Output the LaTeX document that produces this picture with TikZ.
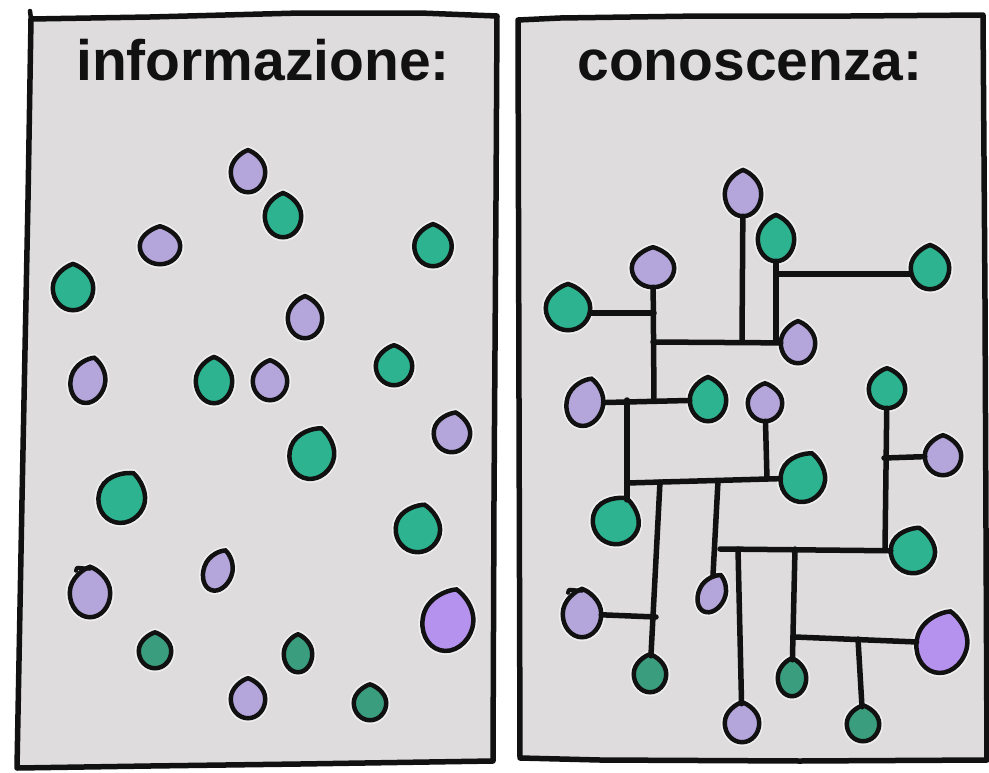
\documentclass[tikz,border=0pt]{standalone}
\usepackage{fontspec}
\setmainfont{Liberation Sans}
\usetikzlibrary{shapes.geometric,calc}
\definecolor{panelgray}{HTML}{DEDCDC}
\definecolor{ink}{HTML}{111111}
\definecolor{lav}{HTML}{B4A5DA}
\definecolor{lavbig}{HTML}{B592EE}
\definecolor{dotgreen}{HTML}{2DB38F}
\definecolor{dotgreendk}{HTML}{3A9E7E}
\newdimen\dropcx \newdimen\dropcy \newdimen\droprx \newdimen\dropry
\makeatletter
\pgfdeclareshape{drop}{%
  \inheritsavedanchors[from=ellipse]%
  \inheritanchor[from=ellipse]{center}%
  \inheritanchor[from=ellipse]{mid}%
  \inheritanchor[from=ellipse]{base}%
  \inheritanchor[from=ellipse]{north}%
  \inheritanchor[from=ellipse]{south}%
  \inheritanchor[from=ellipse]{east}%
  \inheritanchor[from=ellipse]{west}%
  \inheritanchorborder[from=ellipse]%
  \backgroundpath{%
    \pgf@process{\radius}%
    \global\droprx=\pgf@x \global\dropry=\pgf@y
    \pgf@process{\centerpoint}%
    \global\dropcx=\pgf@x \global\dropcy=\pgf@y
    \pgfpathmoveto{\pgfpoint{\dropcx}{\dropcy+1.08*\dropry}}%
    \pgfpathcurveto{\pgfpoint{\dropcx+0.32*\droprx}{\dropcy+1.0*\dropry}}%
      {\pgfpoint{\dropcx+\droprx}{\dropcy+0.6*\dropry}}%
      {\pgfpoint{\dropcx+\droprx}{\dropcy}}%
    \pgfpathcurveto{\pgfpoint{\dropcx+\droprx}{\dropcy-0.552*\dropry}}%
      {\pgfpoint{\dropcx+0.552*\droprx}{\dropcy-\dropry}}%
      {\pgfpoint{\dropcx}{\dropcy-\dropry}}%
    \pgfpathcurveto{\pgfpoint{\dropcx-0.552*\droprx}{\dropcy-\dropry}}%
      {\pgfpoint{\dropcx-\droprx}{\dropcy-0.552*\dropry}}%
      {\pgfpoint{\dropcx-\droprx}{\dropcy}}%
    \pgfpathcurveto{\pgfpoint{\dropcx-\droprx}{\dropcy+0.6*\dropry}}%
      {\pgfpoint{\dropcx-0.32*\droprx}{\dropcy+1.0*\dropry}}%
      {\pgfpoint{\dropcx}{\dropcy+1.08*\dropry}}%
    \pgfpathclose
  }%
}
\makeatother
\newcommand\mydot[6]{\node[#1,minimum width=#4pt,minimum height=#5pt,rotate=#6] (#2) at (#3) {};}
\begin{document}
\begin{tikzpicture}[x=1pt,y=-1pt,
  basedot/.style={drop, draw=ink, line width=4.5pt, inner sep=0pt,
     preaction={draw=white, line width=8pt, opacity=.55}},
  pd/.style={basedot, fill=lav},
  pb/.style={basedot, fill=lavbig},
  gd/.style={basedot, fill=dotgreen},
  gs/.style={basedot, fill=dotgreendk},
  conn/.style={draw=ink, line width=5.5pt, line cap=round, line join=round},
  frame/.style={draw=ink, fill=panelgray, line width=5.5pt, line join=round, line cap=round},
  title/.style={font=\bfseries\fontsize{57}{60}\selectfont, text=ink, inner sep=0pt, anchor=base}]
\useasboundingbox (0,0) rectangle (989,772);
\fill[white] (0,0) rectangle (989,772);
% panels
\draw[frame] (31,19) -- (150,17) -- (300,13) -- (420,13) -- (497,16) -- (496,200)
  -- (494,500) -- (493,761) -- (300,764) -- (150,766) -- (17,768) -- (22,500) -- (28,200) -- cycle;
\draw[conn, line width=4.5pt] (30,11) -- (31,19);
\draw[frame] (518,20) -- (560,18) -- (700,16) -- (850,16) -- (983,15) -- (985,300)
  -- (987,760) -- (800,761) -- (600,760) -- (520,758) -- (519,400) -- cycle;
% titles
\node[title] (t1) at (263,80) {informazione:};
\node[title] (t2) at (750,80) {conoscenza:};
% left panel: informazione
\mydot{pd}{l1}{248,172}{30}{36}{0}
\mydot{gd}{l2}{283,216}{32}{38}{0}
\mydot{pd}{l3}{160,246}{36}{32}{0}
\mydot{gd}{l4}{433,246}{33}{36}{0}
\mydot{gd}{l5}{73,288}{36}{40}{0}
\mydot{pd}{l6}{305,318}{30}{36}{0}
\mydot{pd}{l7}{88,381}{30}{40}{-15}
\mydot{gd}{l8}{214,381}{32}{40}{0}
\mydot{pd}{l9}{270,381}{30}{34}{0}
\mydot{gd}{l10}{394,366}{32}{34}{0}
\mydot{pd}{l11}{452,433}{32}{34}{-10}
\mydot{gd}{l12}{312,454}{40}{46}{-20}
\mydot{gd}{l13}{122,498}{42}{46}{-25}
\mydot{gd}{l14}{418,529}{40}{42}{-15}
\mydot{pd}{l15}{218,571}{24}{36}{-20}
\mydot{pd}{l16}{90,593}{36}{44}{0}
\mydot{pb}{l17}{448,621}{46}{56}{-15}
\mydot{gs}{l18}{155,651}{28}{30}{0}
\mydot{gs}{l19}{298,654}{24}{32}{0}
\mydot{pd}{l20}{248,699}{30}{34}{0}
\mydot{gs}{l21}{370,703}{28}{30}{0}
\draw[conn, line width=4pt] (l16.north) -- ++(-13,-1) -- ++(-1,3);
% right panel: conoscenza
\mydot{pd}{A}{743,194}{32}{40}{0}
\mydot{gd}{B}{776,239}{32}{40}{0}
\mydot{pd}{C}{653,268}{38}{34}{0}
\mydot{gd}{D}{930,268}{34}{38}{0}
\mydot{gd}{E}{568,308}{40}{40}{0}
\mydot{pd}{F}{798,343}{30}{36}{0}
\mydot{pd}{G}{585,403}{32}{42}{-15}
\mydot{gd}{H}{708,400}{32}{38}{0}
\mydot{pd}{I}{765,403}{30}{32}{0}
\mydot{gd}{J}{887,389}{32}{34}{0}
\mydot{pd}{K}{943,456}{32}{34}{0}
\mydot{gd}{L}{803,478}{40}{44}{-20}
\mydot{gd}{M}{616,521}{42}{42}{-25}
\mydot{gd}{N}{913,551}{40}{40}{-15}
\mydot{pd}{O}{712,594}{22}{34}{-25}
\mydot{pd}{P}{582,614}{34}{42}{0}
\mydot{pb}{Q}{942,643}{46}{56}{-15}
\mydot{gs}{R}{650,674}{28}{32}{0}
\mydot{gs}{S}{792,678}{24}{32}{0}
\mydot{pd}{T}{742,723}{30}{34}{0}
\mydot{gs}{U}{863,724}{28}{30}{0}
\draw[conn, line width=4pt] (P.north) -- ++(-13,-1) -- ++(-1,3);
% junction points
\coordinate (cEnd) at (654,401);
\coordinate (eJ) at (654,313);
\coordinate (h1s) at (653,342);
\coordinate (aJ) at (742,342);
\coordinate (bJ) at (776,342);
\coordinate (bD) at (776,274);
\coordinate (ghJ) at (627,400);
\coordinate (h2s) at (627,483);
\coordinate (iJ) at (767,479);
\coordinate (rJ) at (660,482);
\coordinate (pJ) at (656,617);
\coordinate (oJ) at (718,481);
\coordinate (h3s) at (720,549);
\coordinate (jN) at (885,549);
\coordinate (jK) at (884,458);
\coordinate (tJ) at (738,549);
\coordinate (sJ) at (795,549);
\coordinate (h4s) at (795,637);
\coordinate (uJ) at (858,639);
% connectors
\draw[conn] (C) -- (cEnd);
\draw[conn] (eJ -| E.east) -- (eJ);
\draw[conn] (h1s) -- (F);
\draw[conn] (A) -- (aJ);
\draw[conn] (B) -- (bJ);
\draw[conn] (bD) -- (bD -| D.west);
\draw[conn] (G) -- (H);
\draw[conn] (ghJ) -- (ghJ |- M.north);
\draw[conn] (h2s) -- (L);
\draw[conn] (I) -- (iJ);
\draw[conn] (rJ) -- (R);
\draw[conn] (P) -- (pJ);
\draw[conn] (oJ) -- (O);
\draw[conn] (h3s) -- (N);
\draw[conn] (J) -- (jN);
\draw[conn] (jK) -- (K);
\draw[conn] (tJ) -- (T);
\draw[conn] (sJ) -- (S);
\draw[conn] (h4s) -- (Q);
\draw[conn] (uJ) -- (U);
\end{tikzpicture}
\end{document}
